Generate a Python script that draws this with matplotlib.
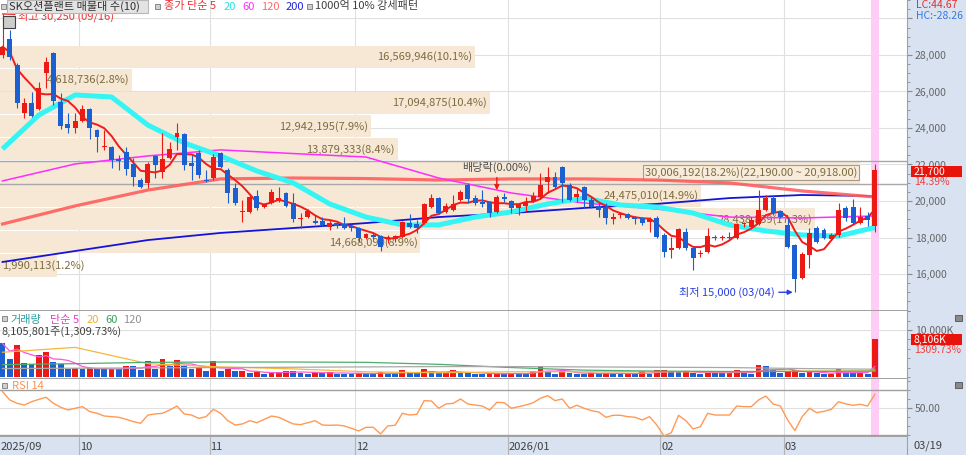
import matplotlib
matplotlib.use("Agg")
import matplotlib.pyplot as plt
import matplotlib.transforms as mtransforms
from matplotlib.patches import Rectangle
from matplotlib.ticker import MultipleLocator, FuncFormatter
import numpy as np
import pandas as pd

plt.rcParams['font.family'] = ['Noto Sans CJK KR', 'DejaVu Sans']

# ---------------- data ----------------
opens = [28000, 28880, 27450, 24820, 25370, 25040, 27010, 28110, 25430, 24220,
         24000, 24380, 25040, 23890, 22960, 22960, 22300, 22690, 22030, 21150,
         20990, 22470, 21590, 22360, 23510, 23670, 22080, 22630, 21150, 21260,
         22630, 21700, 20710, 19400, 19400, 20270, 19670, 19890, 20050, 20440,
         19890, 19010, 19120, 18900, 18900, 18580, 18790, 18740, 18630, 18520,
         17970, 18140, 18080, 17920, 17920, 18030, 18790, 18740, 18790, 19670,
         20160, 19400, 19510, 20050, 20880, 20160, 19950, 19950, 19400, 20220,
         20000, 19620, 19730, 20000, 20220, 21040, 21320, 21860, 20880, 20220,
         20770, 20050, 19730, 19670, 19010, 19230, 19290, 19120, 19070, 18850,
         19070, 18140, 17320, 17430, 18300, 17430, 17100, 17210, 18030, 17970,
         18030, 17970, 18740, 18580, 18740, 19510, 20160, 19450, 18690, 17590,
         15780, 17040, 18520, 18410, 17920, 18140, 19620, 19670, 18790, 19180,
         18630]
highs = [30250, 29370, 27560, 25640, 25970, 26520, 27890, 28170, 25920, 24820,
         24820, 25260, 25100, 23950, 23890, 23010, 22520, 22960, 22360, 21260,
         22140, 22520, 23730, 23230, 24270, 23730, 22520, 22800, 21700, 22580,
         22690, 21810, 20990, 20050, 20330, 20600, 19890, 20660, 20770, 20490,
         20440, 19340, 19560, 19230, 19120, 18960, 18900, 19120, 18740, 18580,
         18250, 18250, 18140, 18140, 18140, 18900, 19290, 18960, 19890, 20380,
         20220, 19890, 20330, 20600, 20990, 20330, 20600, 20000, 20330, 20440,
         20050, 19890, 20220, 20490, 21530, 21860, 21590, 21920, 20990, 20660,
         20820, 20220, 19890, 19890, 19340, 19400, 19340, 19180, 19120, 19120,
         19180, 18250, 18030, 18520, 18520, 17480, 17320, 18520, 18140, 18140,
         18300, 18790, 18850, 19120, 20600, 20330, 20330, 19510, 19070, 17640,
         17210, 18520, 18630, 18520, 18250, 19890, 19730, 20110, 19670, 19400,
         22030]
lows = [27840, 27730, 25100, 24550, 24600, 24990, 26190, 25260, 23950, 23730,
        23730, 24330, 23400, 22690, 22800, 21810, 21700, 21430, 20820, 20710,
        20710, 21260, 21260, 22300, 22800, 21700, 21150, 21260, 21040, 21150,
        21810, 19890, 19780, 18850, 19340, 19510, 19620, 19840, 19950, 19680,
        18850, 18520, 19070, 18740, 18630, 18410, 18520, 18470, 18360, 17750,
        17920, 17920, 17260, 17700, 17750, 17970, 18520, 18250, 18740, 19620,
        19290, 19340, 19450, 20000, 19890, 19780, 19670, 19120, 19340, 19950,
        19340, 19230, 19400, 19950, 20160, 20440, 20710, 19950, 20000, 19950,
        19620, 19620, 19120, 18740, 18740, 19070, 19010, 18740, 18690, 18300,
        17970, 16930, 16880, 17370, 17320, 16220, 16930, 17150, 17860, 17860,
        17860, 17920, 18580, 18520, 18690, 19450, 19230, 19070, 17430, 15000,
        15730, 16330, 17700, 17920, 17860, 18030, 18900, 18740, 18740, 18630,
        18300]
closes = [28440, 27890, 25370, 25370, 24660, 26190, 27620, 25480, 24110, 24000,
          24380, 25040, 24000, 23510, 23010, 22250, 22190, 21750, 21320, 20770,
          22030, 21970, 22300, 22850, 23730, 21970, 21920, 21430, 21100, 22410,
          21860, 20440, 19890, 19450, 20220, 19620, 19840, 20490, 20160, 19730,
          19010, 19070, 19450, 18790, 18690, 18790, 18630, 18520, 18520, 17970,
          18190, 18030, 17480, 18030, 18080, 18850, 18580, 18520, 19840, 20160,
          19340, 19730, 19840, 20490, 20110, 19890, 19840, 19340, 20220, 20110,
          19620, 19840, 19950, 20270, 20880, 21320, 20770, 20990, 20050, 20380,
          20050, 19670, 19510, 19070, 19120, 19290, 19070, 19010, 18790, 19010,
          18030, 17210, 17430, 18470, 17430, 16880, 17150, 18080, 17970, 18030,
          17970, 18740, 18750, 18960, 19510, 20160, 19340, 19120, 17480, 15730,
          17100, 18250, 17750, 17970, 18140, 19510, 19070, 18790, 19120, 18970,
          21700]
# volume in thousand shares
volumes_k = [7140, 3880, 6790, 3050, 2840, 4720, 5410, 3190, 2700, 1600,
             1940, 1660, 1870, 1800, 1600, 1660, 1600, 2430, 2290, 1460,
             3330, 1800, 3880, 2290, 3680, 2290, 1800, 1940, 1320, 3330,
             1320, 1600, 1250, 1320, 760, 1110, 620, 900, 1110, 1250,
             1200, 900, 620, 1040, 760, 1110, 690, 680, 670, 900,
             760, 620, 1040, 690, 680, 1390, 760, 750, 1600, 1320,
             760, 900, 1390, 900, 890, 620, 600, 760, 800, 700,
             760, 690, 650, 1320, 2360, 1250, 690, 1320, 760, 690,
             680, 900, 760, 900, 690, 620, 760, 690, 1250, 690,
             1390, 1420, 1110, 1040, 1060, 900, 690, 1250, 900, 760,
             900, 1390, 760, 740, 2500, 2290, 1460, 900, 1320, 1390,
             900, 1040, 760, 620, 690, 1600, 900, 760, 800, 619,
             8106]
rsi14 = [68.2, 58.9, 55.2, 53.3, 57.0, 59.6, 61.9, 55.2, 50.8, 47.8,
         49.7, 51.5, 46.0, 44.1, 41.1, 40.4, 39.7, 37.4, 34.9, 33.0,
         42.2, 43.4, 44.1, 47.8, 52.2, 43.4, 42.2, 38.5, 40.4, 48.5,
         44.1, 35.9, 31.1, 32.3, 35.9, 33.7, 37.4, 41.1, 39.7, 35.9,
         32.3, 31.5, 33.7, 35.9, 31.1, 30.8, 31.1, 30.1, 27.5, 24.5,
         28.6, 28.6, 21.2, 30.1, 30.8, 44.1, 42.2, 43.0, 58.2, 57.8,
         49.7, 54.5, 55.2, 60.0, 54.5, 53.3, 52.2, 47.8, 56.3, 55.9,
         49.7, 51.5, 53.3, 55.9, 60.8, 63.7, 58.2, 60.0, 49.7, 53.0,
         49.7, 47.1, 45.6, 39.7, 41.9, 41.9, 40.4, 39.7, 36.7, 40.4,
         31.1, 18.9, 22.6, 41.9, 35.9, 26.7, 29.3, 44.1, 42.2, 42.2,
         42.2, 52.2, 51.5, 51.5, 58.9, 63.3, 54.5, 52.2, 36.7, 24.9,
         40.4, 49.7, 44.8, 46.3, 48.5, 57.0, 54.5, 53.0, 54.1, 52.2,
         65.2]

# moving averages (index of candle, value)
ma20_idx = list(range(0, 121, 5))
ma20 = [22850, 24710, 25810, 25700, 24160, 23180, 22470, 21640, 20990, 19840,
        19120, 18690, 18690, 19120, 19400, 19840, 20160, 19780, 19670, 19340,
        18690, 18360, 18140, 18080, 18550]
ma_idx = list(range(0, 121, 10))
ma60 = [21100, 22030, 22470, 22800, 22600, 22410, 21260, 20440, 19890, 19560, 19120, 19070, 19180]
ma120 = [18740, 19730, 20600, 21210, 21260, 21230, 21150, 21210, 21210, 21150, 20990, 20550, 20220]
ma200 = [16660, 17260, 17860, 18250, 18520, 18790, 19120, 19340, 19620, 19840, 20160, 20330, 20270]
vol_ma20 = [5270, 6310, 2840, 2150, 1730, 1110, 900, 1110, 1110, 1110, 1110, 1250, 1320]
vol_ma60 = [2640, 2840, 3120, 3190, 3190, 3120, 2700, 2010, 1460, 1250, 1180, 1180, 1250]
vol_ma120 = [1800, 1870, 1940, 2010, 2080, 2150, 2220, 2220, 2150, 2080, 2010, 1800, 1660]

# price-volume bands (bottom to top)
band_edges = [15830, 17102, 18374, 19646, 20918, 22190, 23462, 24734, 26006, 27278, 28550]
band_vols = [1990113, 14668090, 28438839, 24475010, 30006192,
             13879333, 12942195, 17094875, 4618736, 16569946]
band_pcts = [1.2, 8.9, 17.3, 14.9, 18.2, 8.4, 7.9, 10.4, 2.8, 10.1]

month_starts = [0, 11, 29, 49, 70, 91, 108]
month_labels = ['2025/09', '10', '11', '12', '2026/01', '02', '03']

# ---------------- style ----------------
W, H = 966, 455
STRIP = '#d8e2f0'
RED = '#ec1a14'
BLUE = '#1b5fd0'
GRID = '#e0e0e0'
SPINE = '#a0a0a0'
BAND = '#f6e8d5'
BAND_TXT = '#7d6b3e'
XL = (-0.344, 124.42)

fig = plt.figure(figsize=(W / 100, H / 100), dpi=100)
fig.patch.set_facecolor(STRIP)


def box(x0, y0, x1, y1):
    return [x0 / W, 1 - y1 / H, (x1 - x0) / W, (y1 - y0) / H]


def ftext(x, y, s, color, size=8, ha='left', **kw):
    fig.text(x / W, 1 - y / H, s, color=color, fontsize=size, ha=ha, va='center', **kw)


def frect(x0, y0, x1, y1, fc, ec='none', lw=0.8, z=1):
    fig.add_artist(Rectangle((x0 / W, 1 - y1 / H), (x1 - x0) / W, (y1 - y0) / H,
                             transform=fig.transFigure, fc=fc, ec=ec, lw=lw, zorder=z))


ax = fig.add_axes(box(0, 0, 907, 311))
axv = fig.add_axes(box(0, 311, 907, 379))
axr = fig.add_axes(box(0, 379, 907, 437))
axd = fig.add_axes(box(0, 437, 907, 455))

idx = np.arange(len(closes))
o = np.array(opens); c = np.array(closes)
hi = np.array(highs); lo = np.array(lows)
grid_x = [m - 0.5 for m in month_starts[1:]]

for a in (ax, axv, axr):
    a.set_facecolor('white')
    a.set_xlim(XL)
    a.set_xticks(grid_x)
    a.tick_params(axis='x', length=0, labelbottom=False)
    a.grid(True, color=GRID, lw=0.8)
    a.set_axisbelow(True)
    for s in ('left', 'top'):
        a.spines[s].set_visible(False)
    a.spines['right'].set_color('#9aa3b2')
    a.spines['bottom'].set_color(SPINE)
    a.spines['bottom'].set_linewidth(1.4)
    a.yaxis.tick_right()
    a.tick_params(axis='y', which='major', length=3.6, width=0.8, color='#8a8a8a',
                  labelsize=7.5, labelcolor='#666666', pad=2)
    a.tick_params(axis='y', which='minor', length=2, width=0.6, color='#8a8a8a')
    a.axvspan(len(closes) - 1.55, len(closes) - 0.45, color='#ffccf6', lw=0, zorder=0.55)

# ---------------- price panel ----------------
ax.set_ylim(13973, 31013)
ax.set_yticks(range(16000, 30001, 2000))
ax.yaxis.set_major_formatter(FuncFormatter(lambda v, p: '' if v >= 30000 else f'{v:,.0f}'))
ax.yaxis.set_minor_locator(MultipleLocator(500))

trans = mtransforms.blended_transform_factory(ax.transAxes, ax.transData)
vmax = max(band_vols)
for k, (vol, pct) in enumerate(zip(band_vols, band_pcts)):
    b0, b1 = band_edges[k], band_edges[k + 1]
    frac = vol / vmax * 0.948
    ax.add_patch(Rectangle((0, b0 + 30), frac, (b1 - b0) - 60, transform=trans,
                           fc=BAND, ec='none', zorder=0.6))
    label = f'{vol:,}({pct:.1f}%)'
    kw = {}
    if vol == vmax:
        label += f'({b1:,.2f} ~ {b0:,.2f})'
        kw['bbox'] = dict(boxstyle='square,pad=0.2', fc='#f7ecdc', ec='#a89a84', lw=0.8)
        ax.axhline(b0, color='#a8a8a8', lw=1, zorder=0.8)
        ax.axhline(b1, color='#a8a8a8', lw=1, zorder=0.8)
    if frac * 907 < 95:
        ax.text(0.002, (b0 + b1) / 2, label, transform=trans, ha='left', va='center',
                fontsize=8, color=BAND_TXT, zorder=1, **kw)
    else:
        ax.text(frac - 0.003, (b0 + b1) / 2, label, transform=trans, ha='right', va='center',
                fontsize=8, color=BAND_TXT, zorder=1, **kw)

ma5 = pd.Series(closes).rolling(5, min_periods=1).mean()
ax.plot(ma200_idx if False else ma_idx, ma200, color='#1414d8', lw=1.3, zorder=2)
ax.plot(ma_idx, ma120, color='#ff5f5f', lw=2.3, alpha=0.9, zorder=2)
ax.plot(ma_idx, ma60, color='#ff2cff', lw=1.1, zorder=2)
ax.plot(ma20_idx, ma20, color='#35f4f4', lw=3.6, zorder=2, solid_capstyle='butt')
ax.plot(idx, ma5, color='#f01c1c', lw=1.4, zorder=2.5)

up = c >= o
cols = np.where(up, RED, BLUE)
ax.vlines(idx, lo, hi, colors=cols, lw=0.8, zorder=3)
body_lo = np.minimum(o, c)
body_h = np.maximum(np.abs(c - o), 50)
ax.bar(idx, body_h, bottom=body_lo, width=0.68, color=cols, lw=0, zorder=4)

ax.annotate('배당락(0.00%)', xy=(68, 20600), xytext=(0, 16), textcoords='offset points',
            ha='center', va='center', fontsize=8, color='#505050', zorder=6,
            arrowprops=dict(arrowstyle='-|>', color=RED, lw=1, shrinkA=1, shrinkB=0,
                            mutation_scale=7))
ax.annotate('최저 15,000 (03/04)', xy=(108.7, 15000), xytext=(-13, 0), textcoords='offset points',
            ha='right', va='center', fontsize=8, color='#2a3fe0', zorder=6,
            arrowprops=dict(arrowstyle='-|>', color='#2a3fe0', lw=1, shrinkA=1, shrinkB=0,
                            mutation_scale=7))
ax.annotate('최고 30,250 (09/16)', xy=(0, 30250), xytext=(11, -2), textcoords='offset points',
            ha='left', va='center', fontsize=8, color='#f03030', zorder=6,
            arrowprops=dict(arrowstyle='-', color='#f03030', lw=1, shrinkA=0, shrinkB=0))

# ---------------- volume panel ----------------
vols = np.array(volumes_k)
vup = np.concatenate([[False], vols[1:] > vols[:-1]])
axv.bar(idx, vols, width=0.8, color=np.where(vup, RED, BLUE), lw=0, zorder=2)
axv.plot(idx, pd.Series(volumes_k).rolling(5, min_periods=1).mean(), color='#ff55d8', lw=0.9, zorder=3)
axv.plot(ma_idx, vol_ma20, color='#f5b83a', lw=0.9, zorder=3)
axv.plot(ma_idx, vol_ma60, color='#4cae6c', lw=0.9, zorder=3)
axv.plot(ma_idx, vol_ma120, color='#a8a8a8', lw=0.9, zorder=3)
axv.set_ylim(-426, 14058)
axv.set_yticks([10000])
axv.yaxis.set_major_formatter(FuncFormatter(lambda v, p: f'{v:,.0f}K'))
axv.yaxis.set_minor_locator(MultipleLocator(2000))

# ---------------- RSI panel ----------------
axr.plot(idx, rsi14, color='#ff9a55', lw=1, zorder=3)
axr.axhline(70, color=SPINE, lw=1, zorder=1)
axr.axhline(20, color=SPINE, lw=1, zorder=1)
axr.set_ylim(17.8, 82.2)
axr.set_yticks([50])
axr.yaxis.set_major_formatter(FuncFormatter(lambda v, p: f'{v:.2f}'))
axr.yaxis.set_minor_locator(MultipleLocator(10))

# ---------------- date strip ----------------
axd.set_facecolor(STRIP)
axd.set_xlim(XL)
axd.set_ylim(0, 1)
axd.set_xticks([]); axd.set_yticks([])
for s in ('left', 'top', 'bottom'):
    axd.spines[s].set_visible(False)
axd.spines['right'].set_color('#9aa3b2')
for gx in grid_x:
    axd.axvline(gx, color='#b4b4b4', lw=0.8)
for m, lab in zip(month_starts, month_labels):
    axd.text(max(m - 0.38, -0.3), 0.45, lab, ha='left', va='center', fontsize=8, color='#404040')

# ---------------- header / side texts ----------------
frect(7, 0, 148, 13, '#e3e3e3', ec='#b8b8b8')
for x0, y0 in [(1, 4), (155, 4), (307, 4), (2, 316), (2, 383)]:
    frect(x0, y0, x0 + 5, y0 + 5, '#cfcfcf', ec='#7a7a7a', lw=0.6)
for y0 in (315, 382):
    frect(955, y0, 962, y0 + 6, '#8a8a8a', ec='#505050', lw=0.6)
frect(3, 16, 15, 28, '#cdcdcd', ec='#404040', lw=0.8)

ftext(9, 6.5, 'SK오션플랜트 매물대 수(10)', '#303030')
ftext(164, 6.5, '종가 단순 5', '#f03030')
ftext(224, 6.5, '20', '#25e2e2')
ftext(242, 6.5, '60', '#ff30ff')
ftext(261, 6.5, '120', '#ff6a6a')
ftext(286, 6.5, '200', '#2424e0')
ftext(315, 6.5, '1000억 10% 강세패턴', '#404040')

ftext(916, 5, 'LC:44.67', '#e43030', size=7.5)
ftext(916, 16, 'HC:-28.26', '#3a78e0', size=7.5)
frect(911, 166, 962, 177, '#e8140c')
ftext(914, 171.5, '21,700', 'white', size=7.5)
ftext(914, 182, '14.39%', '#f04040', size=7.5)

ftext(10, 320, '거래량', '#2aa0a0')
ftext(50, 320, '단순 5', '#e040c0')
ftext(87, 320, '20', '#f0b030')
ftext(105, 320, '60', '#3aa060')
ftext(123, 320, '120', '#909090')
ftext(2, 332, '8,105,801주(1,309.73%)', '#404040')
frect(911, 334, 962, 345, '#e8140c')
ftext(914, 339.5, '8,106K', 'white', size=7.5)
ftext(914, 350, '1309.73%', '#f04040', size=7.5)

ftext(12, 386, 'RSI 14', '#ff9050')
ftext(913, 446, '03/19', '#404040')

fig.savefig('out.png', dpi=100, facecolor=fig.get_facecolor())
